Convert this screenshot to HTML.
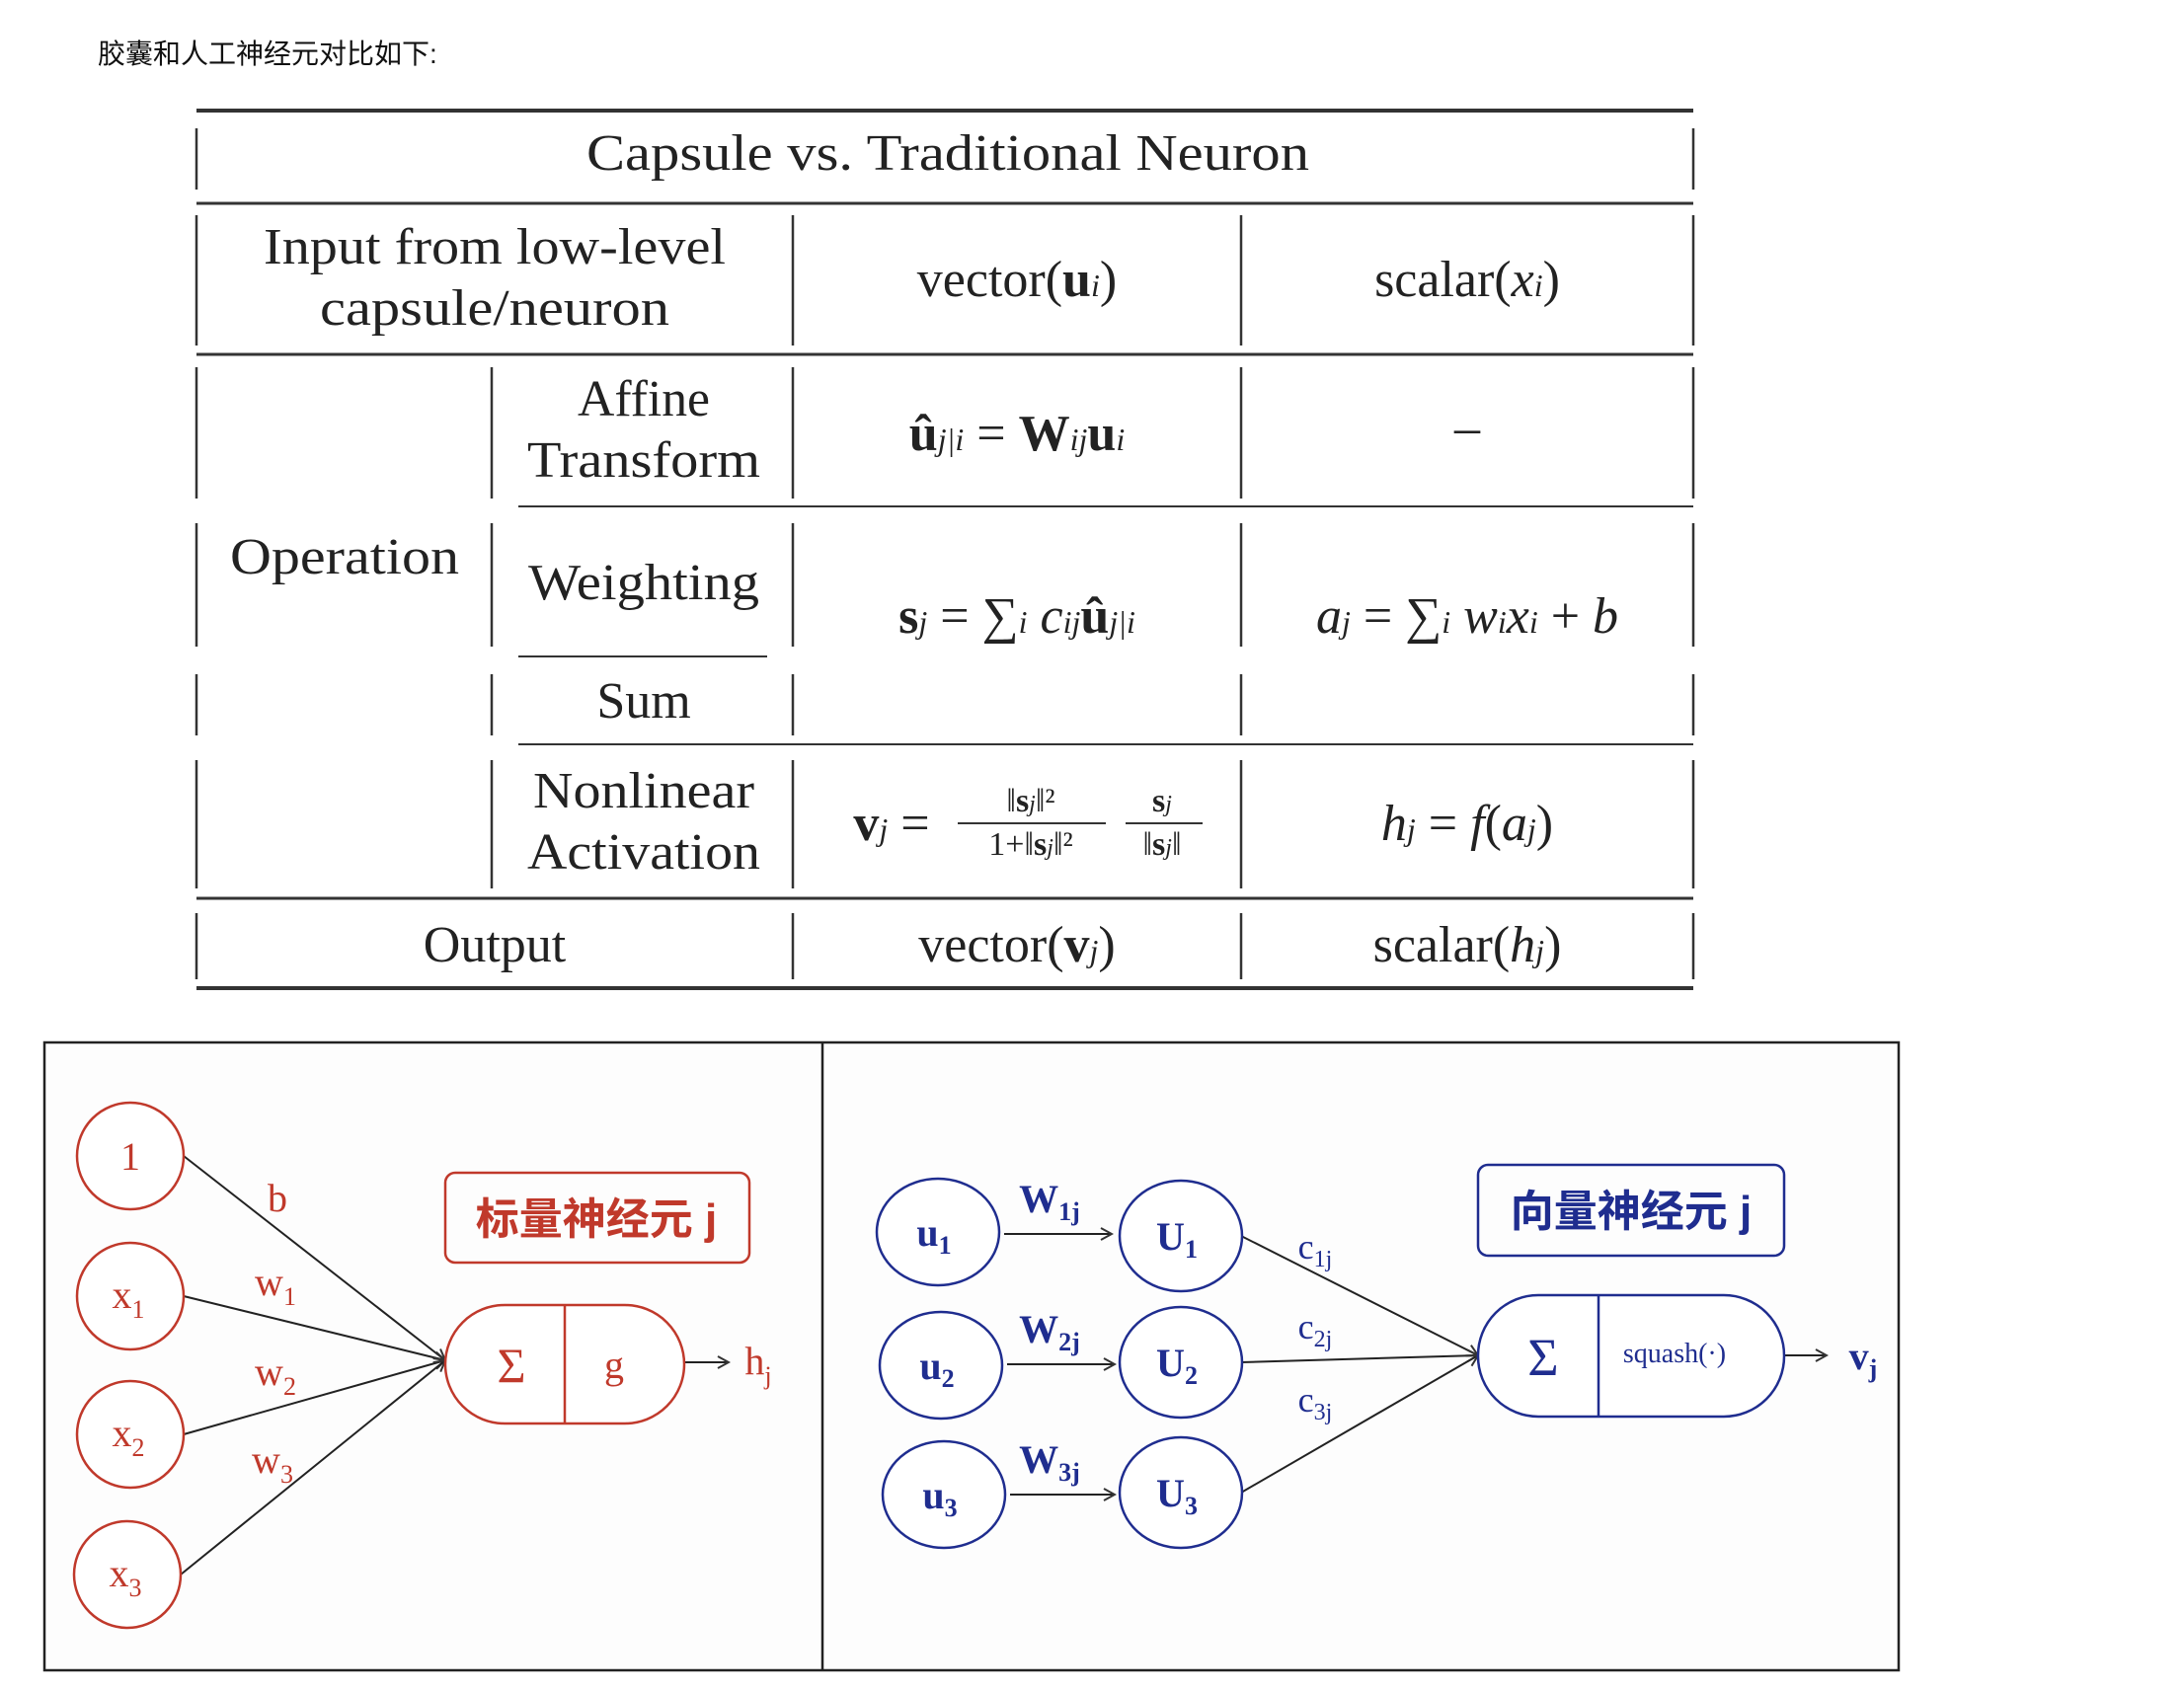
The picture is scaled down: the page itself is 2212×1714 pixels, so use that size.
<!DOCTYPE html>
<html><head><meta charset="utf-8"><style>
html,body{margin:0;padding:0;background:#fff}
svg{display:block}
.t{font-family:"Liberation Serif",serif;fill:#222}
.i{font-style:italic}
.b{font-weight:bold}
.r{fill:#c0392b;font-family:"Liberation Serif",serif}
.bl{fill:#1f2d8f;font-family:"Liberation Serif",serif}
</style></head><body>
<svg width="2212" height="1714" viewBox="0 0 2212 1714" xmlns="http://www.w3.org/2000/svg">
<defs>
<marker id="ar" markerWidth="14" markerHeight="14" refX="12" refY="7" orient="auto" markerUnits="userSpaceOnUse"><path d="M1,1 L12,7 L1,13" fill="none" stroke="#333" stroke-width="2"/></marker>
</defs>
<text x="99" y="64" font-size="28" font-family="'Liberation Sans','Noto Sans CJK SC',sans-serif" fill="#111">胶囊和人工神经元对比如下:</text>

<g stroke="#333">
<line x1="199" y1="112" x2="1715" y2="112" stroke-width="4"/>
<line x1="199" y1="206" x2="1715" y2="206" stroke-width="3"/>
<line x1="199" y1="359" x2="1715" y2="359" stroke-width="3"/>
<line x1="525" y1="513" x2="1715" y2="513" stroke-width="2"/>
<line x1="525" y1="665" x2="777" y2="665" stroke-width="2"/>
<line x1="525" y1="754" x2="1715" y2="754" stroke-width="2"/>
<line x1="199" y1="910" x2="1715" y2="910" stroke-width="3"/>
<line x1="199" y1="1001" x2="1715" y2="1001" stroke-width="4"/>
<g stroke-width="2.5">
<line x1="199" y1="130" x2="199" y2="192"/><line x1="1715" y1="130" x2="1715" y2="192"/>
<line x1="199" y1="218" x2="199" y2="350"/><line x1="803" y1="218" x2="803" y2="350"/><line x1="1257" y1="218" x2="1257" y2="350"/><line x1="1715" y1="218" x2="1715" y2="350"/>
<line x1="199" y1="372" x2="199" y2="505"/><line x1="498" y1="372" x2="498" y2="505"/><line x1="803" y1="372" x2="803" y2="505"/><line x1="1257" y1="372" x2="1257" y2="505"/><line x1="1715" y1="372" x2="1715" y2="505"/>
<line x1="199" y1="530" x2="199" y2="655"/><line x1="498" y1="530" x2="498" y2="655"/><line x1="803" y1="530" x2="803" y2="655"/><line x1="1257" y1="530" x2="1257" y2="655"/><line x1="1715" y1="530" x2="1715" y2="655"/>
<line x1="199" y1="683" x2="199" y2="745"/><line x1="498" y1="683" x2="498" y2="745"/><line x1="803" y1="683" x2="803" y2="745"/><line x1="1257" y1="683" x2="1257" y2="745"/><line x1="1715" y1="683" x2="1715" y2="745"/>
<line x1="199" y1="770" x2="199" y2="900"/><line x1="498" y1="770" x2="498" y2="900"/><line x1="803" y1="770" x2="803" y2="900"/><line x1="1257" y1="770" x2="1257" y2="900"/><line x1="1715" y1="770" x2="1715" y2="900"/>
<line x1="199" y1="925" x2="199" y2="992"/><line x1="803" y1="925" x2="803" y2="992"/><line x1="1257" y1="925" x2="1257" y2="992"/><line x1="1715" y1="925" x2="1715" y2="992"/>
</g>
</g>
<g class="t" font-size="52" text-anchor="middle" stroke="none">
<text x="960" y="172" textLength="732" lengthAdjust="spacingAndGlyphs">Capsule vs. Traditional Neuron</text>
<text x="501" y="267" textLength="468" lengthAdjust="spacingAndGlyphs">Input from low-level</text>
<text x="501" y="329" textLength="354" lengthAdjust="spacingAndGlyphs">capsule/neuron</text>
<text x="1030" y="300">vector(<tspan class="b">u</tspan><tspan class="i" font-size="32">i</tspan>)</text>
<text x="1486" y="300">scalar(<tspan class="i">x</tspan><tspan class="i" font-size="32">i</tspan>)</text>
<text x="652" y="421" textLength="134" lengthAdjust="spacingAndGlyphs">Affine</text>
<text x="652" y="483" textLength="236" lengthAdjust="spacingAndGlyphs">Transform</text>
<text x="1030" y="456"><tspan class="b">û</tspan><tspan class="i" font-size="32">j|i</tspan> = <tspan class="b">W</tspan><tspan class="i" font-size="32">ij</tspan><tspan class="b">u</tspan><tspan class="i" font-size="32">i</tspan></text>
<text x="1486" y="450">–</text>
<text x="349" y="581" textLength="232" lengthAdjust="spacingAndGlyphs">Operation</text>
<text x="652" y="607" textLength="234" lengthAdjust="spacingAndGlyphs">Weighting</text>
<text x="1030" y="641"><tspan class="b">s</tspan><tspan class="i" font-size="32">j</tspan> = ∑<tspan class="i" font-size="32">i</tspan> <tspan class="i">c</tspan><tspan class="i" font-size="32">ij</tspan><tspan class="b">û</tspan><tspan class="i" font-size="32">j|i</tspan></text>
<text x="1486" y="641"><tspan class="i">a</tspan><tspan class="i" font-size="32">j</tspan> = ∑<tspan class="i" font-size="32">i</tspan> <tspan class="i">w</tspan><tspan class="i" font-size="32">i</tspan><tspan class="i">x</tspan><tspan class="i" font-size="32">i</tspan> + <tspan class="i">b</tspan></text>
<text x="652" y="727">Sum</text>
<text x="652" y="818" textLength="224" lengthAdjust="spacingAndGlyphs">Nonlinear</text>
<text x="652" y="880" textLength="236" lengthAdjust="spacingAndGlyphs">Activation</text>
<text x="903" y="851"><tspan class="b">v</tspan><tspan class="i" font-size="32">j</tspan> =</text>
<text x="1044" y="822" font-size="34">‖<tspan class="b">s</tspan><tspan class="i" font-size="24">j</tspan>‖²</text>
<text x="1044" y="866" font-size="34">1+‖<tspan class="b">s</tspan><tspan class="i" font-size="24">j</tspan>‖²</text>
<text x="1177" y="822" font-size="34"><tspan class="b">s</tspan><tspan class="i" font-size="24">j</tspan></text>
<text x="1177" y="866" font-size="34">‖<tspan class="b">s</tspan><tspan class="i" font-size="24">j</tspan>‖</text>
<text x="1486" y="851"><tspan class="i">h</tspan><tspan class="i" font-size="32">j</tspan> = <tspan class="i">f</tspan>(<tspan class="i">a</tspan><tspan class="i" font-size="32">j</tspan>)</text>
<text x="501" y="974">Output</text>
<text x="1030" y="974">vector(<tspan class="b">v</tspan><tspan class="i" font-size="32">j</tspan>)</text>
<text x="1486" y="974">scalar(<tspan class="i">h</tspan><tspan class="i" font-size="32">j</tspan>)</text>
</g>
<g stroke="#333" stroke-width="2">
<line x1="970" y1="834" x2="1120" y2="834"/><line x1="1140" y1="834" x2="1218" y2="834"/>
</g>

<g fill="none" stroke="#222" stroke-width="2.5">
<rect x="45" y="1056" width="1878" height="636" fill="#fdfdfd"/>
<line x1="833" y1="1056" x2="833" y2="1692"/>
</g>

<g>
<g stroke="#222" stroke-width="2" fill="none">
<line x1="186" y1="1171" x2="451" y2="1378" marker-end="url(#ar)"/>
<line x1="186" y1="1313" x2="451" y2="1378" marker-end="url(#ar)"/>
<line x1="186" y1="1453" x2="451" y2="1378" marker-end="url(#ar)"/>
<line x1="183" y1="1595" x2="451" y2="1378" marker-end="url(#ar)"/>
<line x1="693" y1="1380" x2="738" y2="1380" marker-end="url(#ar)"/>
</g>
<g stroke="#c0392b" stroke-width="2.5" fill="#fff">
<circle cx="132" cy="1171" r="54"/><circle cx="132" cy="1313" r="54"/><circle cx="132" cy="1453" r="54"/><circle cx="129" cy="1595" r="54"/>
<rect x="451" y="1322" width="242" height="120" rx="60"/>
<line x1="572" y1="1322" x2="572" y2="1442"/>
<rect x="451" y="1188" width="308" height="91" rx="10" fill="none"/>
</g>
<g class="r" font-size="40" text-anchor="middle">
<text x="132" y="1185">1</text>
<text x="130" y="1325">x<tspan font-size="26" dy="10">1</tspan></text>
<text x="130" y="1465">x<tspan font-size="26" dy="10">2</tspan></text>
<text x="127" y="1607">x<tspan font-size="26" dy="10">3</tspan></text>
<text x="281" y="1227">b</text>
<text x="279" y="1312">w<tspan font-size="26" dy="10">1</tspan></text>
<text x="279" y="1403">w<tspan font-size="26" dy="10">2</tspan></text>
<text x="276" y="1492">w<tspan font-size="26" dy="10">3</tspan></text>
<text x="518" y="1400" font-size="50">Σ</text>
<text x="622" y="1396">g</text>
<text x="768" y="1392">h<tspan font-size="26" dy="10">j</tspan></text>
</g>
<text x="604" y="1250" text-anchor="middle" font-size="44" font-weight="bold" fill="#c0392b" font-family="'Liberation Sans','Noto Sans CJK SC',sans-serif">标量神经元 j</text>
</g>

<g>
<g stroke="#222" stroke-width="2" fill="none">
<line x1="1017" y1="1250" x2="1126" y2="1250" marker-end="url(#ar)"/>
<line x1="1020" y1="1382" x2="1129" y2="1382" marker-end="url(#ar)"/>
<line x1="1023" y1="1514" x2="1129" y2="1514" marker-end="url(#ar)"/>
<line x1="1257" y1="1252" x2="1497" y2="1373" marker-end="url(#ar)"/>
<line x1="1257" y1="1380" x2="1497" y2="1373" marker-end="url(#ar)"/>
<line x1="1257" y1="1512" x2="1497" y2="1373" marker-end="url(#ar)"/>
<line x1="1807" y1="1373" x2="1850" y2="1373" marker-end="url(#ar)"/>
</g>
<g stroke="#1f2d8f" stroke-width="2.5" fill="#fff">
<ellipse cx="950" cy="1248" rx="62" ry="54"/><ellipse cx="953" cy="1383" rx="62" ry="54"/><ellipse cx="956" cy="1514" rx="62" ry="54"/>
<ellipse cx="1196" cy="1252" rx="62" ry="56"/><ellipse cx="1196" cy="1380" rx="62" ry="56"/><ellipse cx="1196" cy="1512" rx="62" ry="56"/>
<rect x="1497" y="1312" width="310" height="123" rx="61"/>
<line x1="1619" y1="1312" x2="1619" y2="1435"/>
<rect x="1497" y="1180" width="310" height="92" rx="10" fill="none"/>
</g>
<g class="bl" font-size="40" text-anchor="middle" font-weight="bold">
<text x="946" y="1262">u<tspan font-size="26" dy="8">1</tspan></text>
<text x="949" y="1397">u<tspan font-size="26" dy="8">2</tspan></text>
<text x="952" y="1528">u<tspan font-size="26" dy="8">3</tspan></text>
<text x="1192" y="1266">U<tspan font-size="26" dy="8">1</tspan></text>
<text x="1192" y="1394">U<tspan font-size="26" dy="8">2</tspan></text>
<text x="1192" y="1526">U<tspan font-size="26" dy="8">3</tspan></text>
<text x="1063" y="1228">W<tspan font-size="26" dy="8">1j</tspan></text>
<text x="1063" y="1360">W<tspan font-size="26" dy="8">2j</tspan></text>
<text x="1063" y="1492">W<tspan font-size="26" dy="8">3j</tspan></text>
<text x="1563" y="1393" font-weight="normal" font-size="54">Σ</text>
<text x="1887" y="1387">v<tspan font-size="26" dy="8">j</tspan></text>
</g>
<g class="bl" font-size="36" text-anchor="middle">
<text x="1332" y="1275">c<tspan font-size="24" dy="8">1j</tspan></text>
<text x="1332" y="1356">c<tspan font-size="24" dy="8">2j</tspan></text>
<text x="1332" y="1430">c<tspan font-size="24" dy="8">3j</tspan></text>
<text x="1696" y="1380" font-size="28">squash(·)</text>
</g>
<text x="1652" y="1242" text-anchor="middle" font-size="44" font-weight="bold" fill="#1f2d8f" font-family="'Liberation Sans','Noto Sans CJK SC',sans-serif">向量神经元 j</text>
</g>
</svg>
</body></html>
